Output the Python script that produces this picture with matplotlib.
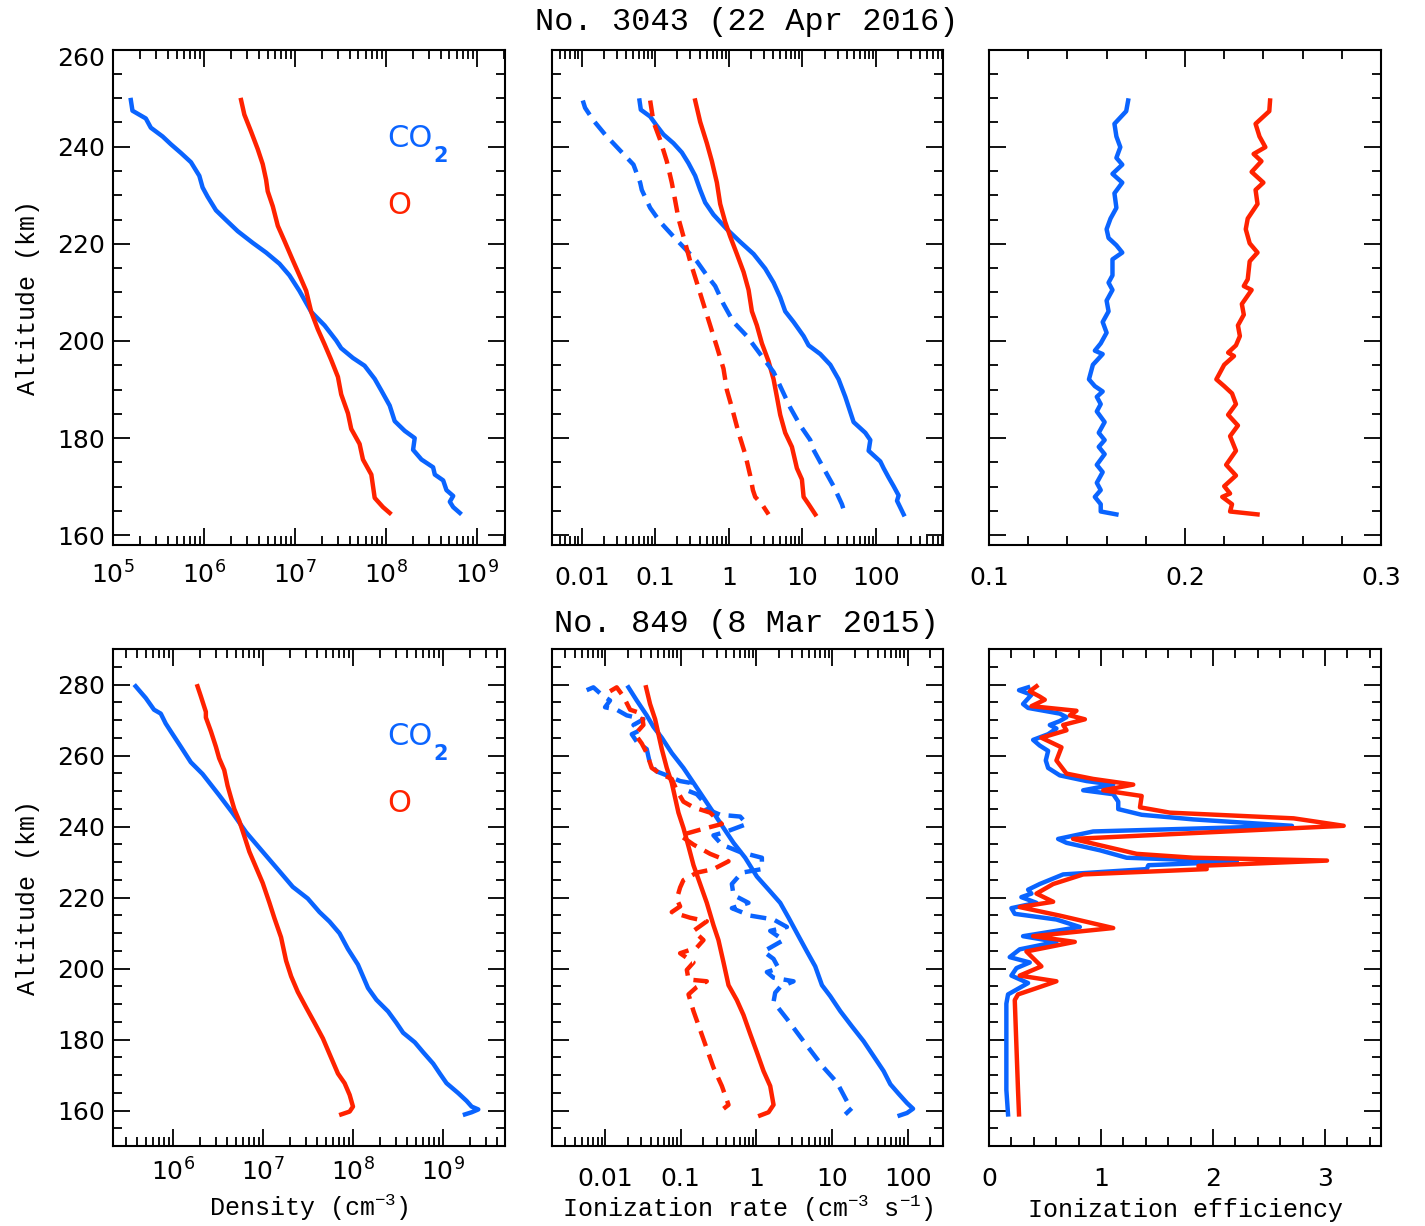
import numpy as np
import matplotlib
matplotlib.use('Agg')
import matplotlib.pyplot as plt
from matplotlib.ticker import LogLocator, FixedLocator, FuncFormatter, MultipleLocator, NullFormatter

BLUE = '#0a64ff'
RED = '#ff2200'
SERIF = ['Liberation Mono', 'DejaVu Sans Mono']

# ---------------- orbit 3043 (22 Apr 2016) ----------------
# density, log10(cm^-3)
co2_dens_3043_alt = [249.6, 247.4, 245.8, 243.9, 242.1, 240.5, 238.7, 236.8, 234.0, 231.6, 229.7,
                     226.9, 224.9, 222.6, 220.2, 218.2, 215.9, 213.5, 210.3, 206.0, 203.2, 200.1,
                     198.5, 196.5, 194.9, 192.2, 189.8, 186.7, 183.5, 181.5, 180.0, 177.6, 175.6,
                     174.0, 172.5, 171.3, 169.3, 168.1, 166.9, 165.8, 164.6]
co2_dens_3043_log = [5.196, 5.214, 5.361, 5.416, 5.545, 5.636, 5.747, 5.857, 5.949, 5.985, 6.040,
                     6.132, 6.242, 6.371, 6.536, 6.683, 6.830, 6.940, 7.050, 7.179, 7.326, 7.454,
                     7.509, 7.638, 7.766, 7.877, 7.950, 8.042, 8.097, 8.207, 8.317, 8.299, 8.391,
                     8.519, 8.538, 8.630, 8.666, 8.740, 8.703, 8.740, 8.813]
o_dens_3043_alt = [249.6, 246.6, 243.1, 239.5, 236.4, 233.2, 230.8, 227.7, 223.7, 220.6, 216.6,
                   213.5, 210.3, 206.0, 202.4, 199.3, 196.1, 192.6, 189.0, 185.1, 181.9, 178.8,
                   175.6, 172.5, 167.7, 165.8, 164.6]
o_dens_3043_log = [6.408, 6.444, 6.518, 6.591, 6.646, 6.683, 6.701, 6.757, 6.812, 6.885, 6.977,
                   7.050, 7.124, 7.179, 7.252, 7.326, 7.399, 7.473, 7.509, 7.583, 7.619, 7.711,
                   7.748, 7.840, 7.877, 7.968, 8.042]

# ionization rate, log10(cm^-3 s^-1); solid and dashed
co2_ion_3043_alt = [249.5, 247.6, 246.2, 244.3, 242.5, 240.7, 238.8, 236.6, 234.0, 231.1, 228.5,
                    226.0, 223.0, 220.4, 217.9, 214.9, 212.0, 209.0, 206.1, 203.9, 201.0, 199.1,
                    197.3, 195.1, 192.1, 188.5, 183.3, 181.1, 179.6, 177.4, 175.2, 173.8, 171.9,
                    170.1, 168.2, 167.1, 165.7, 164.3]
co2_ion_3043_log = [-1.215, -1.197, -1.070, -0.980, -0.889, -0.753, -0.639, -0.549, -0.458, -0.390,
                    -0.322, -0.209, -0.027, 0.154, 0.336, 0.494, 0.608, 0.698, 0.766, 0.880, 1.016,
                    1.084, 1.243, 1.379, 1.492, 1.583, 1.696, 1.855, 1.923, 1.900, 2.059, 2.104,
                    2.172, 2.240, 2.308, 2.286, 2.331, 2.376]
o_ion_3043_alt = [249.5, 245.1, 240.7, 237.0, 232.6, 228.2, 224.5, 221.5, 217.9, 214.2, 210.5,
                  206.1, 203.2, 199.5, 195.8, 192.1, 188.5, 184.8, 181.1, 178.2, 173.8, 171.5,
                  167.9, 166.4, 164.3]
o_ion_3043_log = [-0.458, -0.390, -0.299, -0.231, -0.163, -0.118, -0.050, 0.018, 0.109, 0.200,
                  0.268, 0.313, 0.381, 0.449, 0.540, 0.608, 0.653, 0.698, 0.766, 0.857, 0.925,
                  0.993, 1.016, 1.084, 1.175]
co2_ion2_3043_alt = [249.5, 248.0, 245.4, 242.5, 241.4, 239.2, 236.3, 232.6, 231.1, 227.4, 224.5,
                     221.5, 218.6, 216.4, 213.5, 211.3, 207.6, 203.9, 201.0, 197.3, 193.6, 190.7,
                     186.3, 182.6, 179.6, 178.2, 173.8, 170.1, 166.4, 165.3, 164.3]
co2_ion2_3043_log = [-1.986, -1.955, -1.841, -1.683, -1.615, -1.478, -1.297, -1.206, -1.184, -1.070,
                     -0.934, -0.753, -0.571, -0.435, -0.299, -0.186, -0.073, 0.063, 0.245, 0.426,
                     0.608, 0.698, 0.834, 0.971, 1.107, 1.129, 1.288, 1.424, 1.537, 1.560, 1.605]
o_ion2_3043_alt = [249.5, 245.1, 241.4, 237.0, 232.6, 228.9, 225.2, 221.5, 216.4, 212.0, 207.6,
                   203.2, 198.8, 194.3, 189.9, 186.3, 181.1, 176.7, 172.3, 169.3, 167.9, 166.4, 164.3]
o_ion2_3043_log = [-1.070, -1.025, -0.934, -0.844, -0.776, -0.730, -0.685, -0.617, -0.526, -0.435,
                   -0.345, -0.254, -0.163, -0.073, -0.027, 0.041, 0.132, 0.222, 0.290, 0.327,
                   0.358, 0.449, 0.540]

# ionization efficiency
co2_eff_3043_alt = [249.5, 247.3, 244.7, 242.1, 239.9, 237.7, 236.3, 234.4, 232.6, 230.4, 227.4,
                    225.2, 223.0, 221.2, 219.7, 218.2, 216.8, 213.5, 212.0, 210.5, 208.3, 206.1,
                    203.9, 201.7, 199.5, 198.0, 197.3, 195.1, 192.1, 190.7, 189.6, 188.5, 187.0,
                    185.5, 183.3, 181.1, 179.6, 178.2, 176.7, 174.5, 173.0, 170.8, 169.3, 167.9,
                    166.4, 164.9, 164.3]
co2_eff_3043 = [0.171, 0.170, 0.164, 0.165, 0.167, 0.165, 0.168, 0.163, 0.168, 0.164, 0.165,
                0.162, 0.160, 0.161, 0.165, 0.168, 0.163, 0.163, 0.161, 0.163, 0.160, 0.161,
                0.158, 0.160, 0.157, 0.154, 0.158, 0.153, 0.151, 0.154, 0.158, 0.155, 0.157,
                0.155, 0.159, 0.156, 0.159, 0.156, 0.159, 0.155, 0.158, 0.155, 0.157, 0.154,
                0.157, 0.157, 0.165]
o_eff_3043_alt = [249.5, 247.3, 244.7, 242.1, 239.9, 238.5, 237.0, 234.8, 232.6, 231.1, 228.2,
                  225.2, 223.0, 220.1, 218.2, 216.4, 212.7, 211.3, 210.5, 207.6, 205.4, 203.2,
                  201.0, 199.1, 197.6, 196.9, 195.1, 193.6, 192.1, 190.7, 189.2, 187.0, 184.8,
                  182.6, 180.4, 177.4, 174.5, 172.3, 170.1, 168.6, 167.9, 166.4, 164.9, 164.3]
o_eff_3043 = [0.2434, 0.243, 0.236, 0.238, 0.241, 0.235, 0.239, 0.234, 0.240, 0.236, 0.237,
              0.232, 0.231, 0.233, 0.237, 0.233, 0.232, 0.230, 0.234, 0.229, 0.230, 0.227,
              0.228, 0.226, 0.222, 0.225, 0.220, 0.218, 0.216, 0.220, 0.224, 0.226, 0.222,
              0.227, 0.223, 0.226, 0.221, 0.226, 0.220, 0.223, 0.219, 0.224, 0.223, 0.237]

# ---------------- orbit 849 (8 Mar 2015) ----------------
co2_dens_849_alt = [279.5, 278.4, 276.2, 272.9, 271.8, 269.0, 266.8, 262.5, 258.1, 254.8, 248.8,
                    243.8, 238.4, 232.9, 227.4, 223.0, 219.7, 215.9, 213.2, 209.9, 205.5, 201.1,
                    197.8, 194.5, 191.2, 187.9, 184.7, 181.9, 179.2, 176.4, 173.2, 170.4, 167.7,
                    164.9, 162.7, 161.1, 160.3, 159.5, 158.9]
co2_dens_849_log = [5.584, 5.621, 5.696, 5.788, 5.863, 5.918, 5.974, 6.085, 6.197, 6.327, 6.512,
                    6.661, 6.810, 6.995, 7.181, 7.329, 7.496, 7.626, 7.738, 7.849, 7.942, 8.053,
                    8.109, 8.165, 8.258, 8.388, 8.480, 8.555, 8.685, 8.778, 8.889, 8.963, 9.037,
                    9.167, 9.260, 9.316, 9.390, 9.316, 9.242]
o_dens_849_alt = [279.5, 276.7, 272.3, 270.7, 266.8, 262.5, 259.2, 255.9, 251.5, 248.2, 244.9,
                  241.6, 237.3, 232.9, 228.5, 224.1, 218.6, 214.2, 208.8, 202.2, 197.8, 193.4,
                  189.0, 184.7, 180.3, 175.9, 170.4, 167.7, 164.4, 161.1, 159.7, 158.9]
o_dens_849_log = [6.271, 6.308, 6.364, 6.364, 6.420, 6.475, 6.512, 6.568, 6.605, 6.642, 6.680,
                  6.735, 6.791, 6.847, 6.921, 6.995, 7.069, 7.125, 7.199, 7.255, 7.311, 7.385,
                  7.478, 7.571, 7.664, 7.738, 7.831, 7.905, 7.961, 7.998, 7.961, 7.868]

co2_ion_849_alt = [279.2, 275.5, 271.3, 268.1, 265.0, 260.7, 256.5, 252.3, 248.1, 243.9, 239.6,
                   235.4, 231.2, 225.9, 221.7, 218.5, 214.3, 209.1, 204.8, 200.6, 195.3, 192.2,
                   188.0, 183.7, 179.5, 175.3, 171.1, 167.4, 164.7, 162.1, 160.5, 159.3, 158.6]
co2_ion_849_log = [-1.691, -1.581, -1.449, -1.361, -1.250, -1.118, -0.964, -0.831, -0.699, -0.567,
                   -0.434, -0.302, -0.148, 0.007, 0.183, 0.315, 0.426, 0.558, 0.668, 0.778, 0.867,
                   0.977, 1.109, 1.263, 1.418, 1.550, 1.682, 1.771, 1.881, 1.991, 2.071, 1.991, 1.894]
o_ion_849_alt = [279.2, 274.5, 270.2, 266.0, 261.8, 256.5, 252.3, 248.1, 243.9, 239.6, 234.4,
                 229.1, 223.8, 218.5, 212.2, 208.0, 201.7, 195.3, 191.1, 186.9, 181.6, 176.4,
                 171.1, 166.9, 161.6, 159.5, 158.6]
o_ion_849_log = [-1.458, -1.405, -1.338, -1.294, -1.250, -1.184, -1.118, -1.074, -1.030, -0.964,
                 -0.897, -0.831, -0.743, -0.655, -0.567, -0.501, -0.434, -0.368, -0.258, -0.170,
                 -0.082, 0.007, 0.095, 0.183, 0.227, 0.161, 0.051]
co2_ion2_849_alt = [278.4, 279.2, 277.1, 275.5, 273.6, 272.9, 271.3, 270.2, 268.6, 267.1, 266.0,
                    263.9, 261.8, 257.6, 255.5, 254.4, 252.8, 252.3, 250.2, 249.1, 247.0, 244.9,
                    243.3, 242.8, 240.7, 238.6, 237.5, 234.9, 232.8, 231.2, 228.0, 227.0, 223.8,
                    220.7, 218.5, 217.0, 214.9, 213.8, 211.7, 210.6, 208.0, 204.8, 202.7, 200.1,
                    199.0, 197.4, 196.4, 194.8, 193.2, 190.6, 185.8, 179.5, 172.1, 167.9, 162.6,
                    160.7, 158.9]
co2_ion2_849_log = [-2.243, -2.154, -2.044, -1.934, -2.000, -1.846, -1.713, -1.493, -1.625, -1.537,
                    -1.647, -1.581, -1.449, -1.405, -1.316, -1.184, -1.008, -0.875, -0.919, -0.787,
                    -0.699, -0.655, -0.478, -0.214, -0.126, -0.390, -0.567, -0.456, -0.214, 0.073,
                    0.073, -0.192, -0.324, -0.302, -0.104, -0.324, -0.082, 0.227, 0.404, 0.183,
                    0.359, 0.095, 0.227, 0.293, 0.139, 0.227, 0.492, 0.315, 0.249, 0.227, 0.404,
                    0.624, 0.889, 1.065, 1.197, 1.263, 1.175]
o_ion2_849_alt = [278.1, 279.2, 276.6, 272.9, 271.8, 268.6, 266.0, 263.4, 260.7, 256.5, 254.9,
                  253.4, 250.2, 247.0, 245.4, 243.9, 240.7, 239.1, 237.5, 234.9, 232.3, 230.2,
                  228.0, 227.0, 224.9, 222.8, 219.6, 217.5, 215.9, 214.3, 213.3, 210.6, 208.0,
                  205.9, 204.3, 201.7, 199.6, 196.9, 196.4, 194.8, 192.7, 188.0, 182.7, 177.4,
                  172.1, 166.9, 161.6, 160.5]
o_ion2_849_log = [-1.934, -1.846, -1.757, -1.669, -1.515, -1.493, -1.603, -1.515, -1.449, -1.383,
                  -1.272, -1.118, -1.052, -0.964, -0.831, -0.611, -0.456, -0.743, -1.008, -0.831,
                  -0.611, -0.368, -0.567, -0.787, -0.964, -1.008, -1.052, -1.008, -1.118, -0.875,
                  -0.655, -0.831, -0.699, -0.787, -1.008, -0.831, -0.919, -0.897, -0.655, -0.787,
                  -0.897, -0.831, -0.743, -0.655, -0.567, -0.456, -0.368, -0.434]

co2_eff_849_alt = [279.2, 278.4, 277.1, 274.5, 273.4, 271.8, 270.8, 269.7, 268.6, 267.6, 266.0,
                   264.4, 262.8, 261.3, 258.6, 256.5, 254.4, 252.8, 251.8, 250.2, 249.1, 247.0,
                   244.9, 243.3, 242.0, 240.2, 238.6, 236.5, 235.4, 233.3, 231.2, 230.1, 229.1,
                   228.0, 226.5, 223.8, 222.2, 221.1, 220.1, 218.5, 217.0, 215.4, 213.8, 211.7,
                   209.1, 207.5, 205.4, 203.2, 201.7, 200.1, 198.0, 195.9, 192.7, 190.1, 165.8,
                   158.9]
co2_eff_849 = [0.349, 0.268, 0.379, 0.304, 0.349, 0.632, 0.692, 0.632, 0.543, 0.602, 0.528,
               0.394, 0.453, 0.528, 0.507, 0.528, 0.632, 0.871, 1.109, 0.841, 1.109, 1.154,
               1.154, 1.363, 1.825, 2.705, 0.930, 0.617, 0.692, 0.990, 1.229, 2.213, 1.423,
               1.408, 0.662, 0.453, 0.349, 0.379, 0.289, 0.424, 0.200, 0.230, 0.602, 0.811,
               0.304, 0.602, 0.274, 0.185, 0.364, 0.245, 0.200, 0.349, 0.170, 0.155, 0.155,
               0.170]
o_eff_849_alt = [279.5, 278.1, 276.6, 275.7, 273.9, 272.6, 271.3, 270.2, 268.6, 267.1, 265.0,
                 262.3, 258.6, 254.9, 253.4, 251.8, 250.2, 248.6, 245.4, 243.9, 242.3, 240.2,
                 236.5, 232.3, 231.2, 230.4, 228.9, 228.0, 226.5, 223.8, 221.1, 218.8, 217.3,
                 214.9, 211.4, 209.1, 207.5, 204.8, 200.6, 198.0, 196.4, 194.3, 192.7, 191.1,
                 165.8, 158.9]
o_eff_849 = [0.424, 0.364, 0.453, 0.498, 0.379, 0.781, 0.722, 0.856, 0.662, 0.692, 0.468,
             0.647, 0.602, 0.692, 0.930, 1.288, 1.020, 1.363, 1.348, 1.616, 2.720, 3.167,
             0.751, 1.318, 1.825, 3.018, 1.870, 1.944, 0.841, 0.573, 0.424, 0.573, 0.274,
             0.632, 1.109, 0.394, 0.766, 0.334, 0.468, 0.274, 0.602, 0.409, 0.259, 0.230,
             0.259, 0.268]

titles = ['No. 3043 (22 Apr 2016)', 'No. 849 (8 Mar 2015)']

plt.rcParams['font.family'] = 'DejaVu Sans'
fig = plt.figure(figsize=(14.25, 12.26), dpi=100)
W, H = 1425.0, 1226.0


def add_ax(x0, x1, y0, y1):
    return fig.add_axes([x0 / W, 1 - y1 / H, (x1 - x0) / W, (y1 - y0) / H])


def style(ax, ylim, major=20, minor=5, ylabels=True):
    ax.set_ylim(*ylim)
    ax.yaxis.set_major_locator(MultipleLocator(major))
    ax.yaxis.set_minor_locator(MultipleLocator(minor))
    ax.tick_params(which='both', direction='in', top=True, right=True, width=1.3,
                   labelsize=18, colors='black')
    ax.tick_params(which='major', length=12)
    ax.tick_params(which='minor', length=6.5)
    ax.tick_params(axis='y', pad=6)
    if not ylabels:
        ax.set_yticklabels([])
    for s in ax.spines.values():
        s.set_linewidth(1.5)


def log_axis(ax, lim, labels=None):
    ax.set_xscale('log')
    ax.set_xlim(*lim)
    ax.xaxis.set_minor_locator(LogLocator(base=10, subs=np.arange(2, 10), numticks=50))
    ax.xaxis.set_minor_formatter(NullFormatter())
    if labels is not None:
        ax.xaxis.set_major_locator(FixedLocator([float(l) for l in labels]))
        ax.xaxis.set_major_formatter(FuncFormatter(lambda v, p: '%g' % v))
    else:
        ax.xaxis.set_major_locator(LogLocator(base=10, numticks=50))


def species_labels(ax, y_co2, y_o):
    co = ax.text(0.70, y_co2, 'CO', color=BLUE, fontsize=22, transform=ax.transAxes, va='center')
    ax.annotate('2', xy=(1.0, 0.0), xycoords=co, xytext=(0.5, -2), textcoords='offset points',
                color=BLUE, fontsize=15, fontweight='bold', ha='left', va='center')
    ax.text(0.70, y_o, 'O', color=RED, fontsize=22, transform=ax.transAxes, va='center')


LW = 3.2
DASH = (0, (3.6, 2.0))
rows = [(49.5, 545.0), (649.0, 1146.0)]
cols = [(113.0, 505.0), (552.0, 943.0), (989.0, 1381.0)]

# ---- top row ----
y0, y1 = rows[0]
ax = add_ax(*cols[0], y0, y1)
ax.plot(10 ** np.array(co2_dens_3043_log), co2_dens_3043_alt, color=BLUE, lw=LW)
ax.plot(10 ** np.array(o_dens_3043_log), o_dens_3043_alt, color=RED, lw=LW)
log_axis(ax, (1e5, 2.04e9))
style(ax, (158, 260))
# top label drawn a little below its tick, as in the source figure
ax.yaxis.set_major_formatter(FuncFormatter(lambda v, p: '' if v >= 260 else '%d' % v))
ax.annotate('260', xy=(0, 260), xycoords=('axes fraction', 'data'), xytext=(-6, -7),
            textcoords='offset points', ha='right', va='center', fontsize=18)
ax.tick_params(axis='x', pad=12)
ax.set_ylabel('Altitude (km)', family=SERIF, fontsize=18, labelpad=12)
species_labels(ax, 0.82, 0.686)

ax = add_ax(*cols[1], y0, y1)
ax.plot(10 ** np.array(co2_ion_3043_log), co2_ion_3043_alt, color=BLUE, lw=LW)
ax.plot(10 ** np.array(o_ion_3043_log), o_ion_3043_alt, color=RED, lw=LW)
ax.plot(10 ** np.array(co2_ion2_3043_log), co2_ion2_3043_alt, color=BLUE, lw=LW, ls=DASH)
ax.plot(10 ** np.array(o_ion2_3043_log), o_ion2_3043_alt, color=RED, lw=LW, ls=DASH)
log_axis(ax, (0.00394, 815), ['0.01', '0.1', '1', '10', '100'])
style(ax, (158, 260), ylabels=False)
ax.tick_params(axis='x', pad=15)

ax = add_ax(*cols[2], y0, y1)
ax.plot(co2_eff_3043, co2_eff_3043_alt, color=BLUE, lw=LW)
ax.plot(o_eff_3043, o_eff_3043_alt, color=RED, lw=LW)
ax.set_xlim(0.1, 0.3)
ax.xaxis.set_major_locator(MultipleLocator(0.1))
ax.xaxis.set_minor_locator(MultipleLocator(0.02))
ax.xaxis.set_major_formatter(FuncFormatter(lambda v, p: '%g' % round(v, 3)))
style(ax, (158, 260), ylabels=False)
ax.tick_params(axis='x', pad=15)

# ---- bottom row ----
y0, y1 = rows[1]
ax = add_ax(*cols[0], y0, y1)
ax.plot(10 ** np.array(co2_dens_849_log), co2_dens_849_alt, color=BLUE, lw=LW)
ax.plot(10 ** np.array(o_dens_849_log), o_dens_849_alt, color=RED, lw=LW)
log_axis(ax, (2.15e5, 4.86e9))
style(ax, (150, 290))
ax.tick_params(axis='x', pad=9)
ax.set_ylabel('Altitude (km)', family=SERIF, fontsize=18, labelpad=12)
ax.set_xlabel('Density (cm$^{\\mathdefault{-3}}$)', family=SERIF, fontsize=18, labelpad=5)
species_labels(ax, 0.823, 0.69)

ax = add_ax(*cols[1], y0, y1)
ax.plot(10 ** np.array(co2_ion_849_log), co2_ion_849_alt, color=BLUE, lw=LW)
ax.plot(10 ** np.array(o_ion_849_log), o_ion_849_alt, color=RED, lw=LW)
ax.plot(10 ** np.array(co2_ion2_849_log), co2_ion2_849_alt, color=BLUE, lw=LW, ls=DASH)
ax.plot(10 ** np.array(o_ion2_849_log), o_ion2_849_alt, color=RED, lw=LW, ls=DASH)
log_axis(ax, (0.00199, 293), ['0.01', '0.1', '1', '10', '100'])
style(ax, (150, 290), ylabels=False)
ax.tick_params(axis='x', pad=15)
ax.set_xlabel('Ionization rate (cm$^{\\mathdefault{-3}}$ s$^{\\mathdefault{-1}}$)',
              family=SERIF, fontsize=18, labelpad=2)

ax = add_ax(*cols[2], y0, y1)
ax.plot(co2_eff_849, co2_eff_849_alt, color=BLUE, lw=LW)
ax.plot(o_eff_849, o_eff_849_alt, color=RED, lw=LW)
ax.set_xlim(0, 3.5)
ax.xaxis.set_major_locator(MultipleLocator(1))
ax.xaxis.set_minor_locator(MultipleLocator(0.2))
style(ax, (150, 290), ylabels=False)
ax.tick_params(axis='x', pad=15)
ax.set_xlabel('Ionization efficiency', family=SERIF, fontsize=18, labelpad=5)

fig.text(747 / W, 1 - 22 / H, titles[0], family=SERIF, fontsize=23, ha='center', va='center')
fig.text(747 / W, 1 - 624 / H, titles[1], family=SERIF, fontsize=23, ha='center', va='center')

fig.savefig('out.png', dpi=100)
